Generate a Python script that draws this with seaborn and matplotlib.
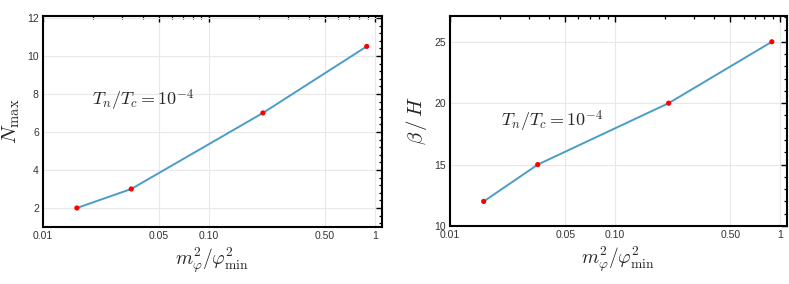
import numpy as np
import pandas as pd
import matplotlib
matplotlib.use("Agg")
import matplotlib.pyplot as plt
import seaborn as sns
from matplotlib.ticker import FixedLocator, NullFormatter

mass_ratio = [0.016, 0.034, 0.211, 0.89]
n_max = [2, 3, 7, 10.5]
beta_h = [12, 15, 20, 25]
x_ticks = [0.01, 0.05, 0.10, 0.50, 1.0]
x_ticklabels = ["0.01", "0.05", "0.10", "0.50", "1"]
left_yticks = [2, 4, 6, 8, 10, 12]
right_yticks = [10, 15, 20, 25]

sns.set_theme(style="white")
plt.rcParams["font.family"] = ["Liberation Sans", "DejaVu Sans"]
plt.rcParams["mathtext.fontset"] = "cm"

fig = plt.figure(figsize=(7.89, 2.84), dpi=100)
ax1 = fig.add_axes([43/789, 57/284, 339/789, 211/284])
ax2 = fig.add_axes([450/789, 58/284, 337/789, 210/284])

line_color = "#4a9dc8"
minor_x = [k * 10**e for e in (-2, -1) for k in range(2, 10) if k not in (5,)]

def style(ax, y, yticks, ylim, yminor, ylabel, txt_xy):
    df = pd.DataFrame({"x": mass_ratio, "y": y})
    sns.lineplot(data=df, x="x", y="y", ax=ax, color=line_color, lw=1.4, sort=False, zorder=2)
    sns.scatterplot(data=df, x="x", y="y", ax=ax, color="#ff0000", s=14, edgecolor="none", zorder=3)
    ax.set_xscale("log")
    ax.set_xlim(0.01, 1.1)
    ax.set_ylim(*ylim)
    ax.xaxis.set_major_locator(FixedLocator(x_ticks))
    ax.set_xticklabels(x_ticklabels)
    ax.xaxis.set_minor_locator(FixedLocator(minor_x))
    ax.xaxis.set_minor_formatter(NullFormatter())
    ax.yaxis.set_major_locator(FixedLocator(yticks))
    ax.yaxis.set_minor_locator(FixedLocator(yminor))
    ax.grid(True, which="major", color="#e8e8e8", lw=0.8, zorder=0)
    ax.set_axisbelow(True)
    ax.tick_params(which="both", direction="in", top=True, right=True,
                   labelsize=7.5, colors="black", labelcolor="#333333", pad=3)
    ax.tick_params(which="major", length=4, width=1.0)
    ax.tick_params(which="minor", length=2, width=0.9)
    for sp in ax.spines.values():
        sp.set_visible(True)
        sp.set_color("black")
        sp.set_linewidth(1.5)
    ax.set_xlabel(r"$m_\varphi^2/\varphi_{\min}^2$", fontsize=14, labelpad=3)
    ax.set_ylabel(ylabel, fontsize=15, labelpad=4)
    ax.text(*txt_xy, r"$T_n/T_c = 10^{-4}$", transform=ax.transAxes, fontsize=13)

style(ax1, n_max, left_yticks, (1, 12.1),
      [v for v in np.arange(1.2, 12.1, 0.4) if abs(v/2 - round(v/2)) > 0.01], r"$N_{\max}$", (0.145, 0.575))
style(ax2, beta_h, right_yticks, (10, 27.1),
      [v for v in range(11, 28) if v % 5 != 0], r"$\beta\,/\,H$", (0.15, 0.475))

fig.savefig("out.png", dpi=100)
